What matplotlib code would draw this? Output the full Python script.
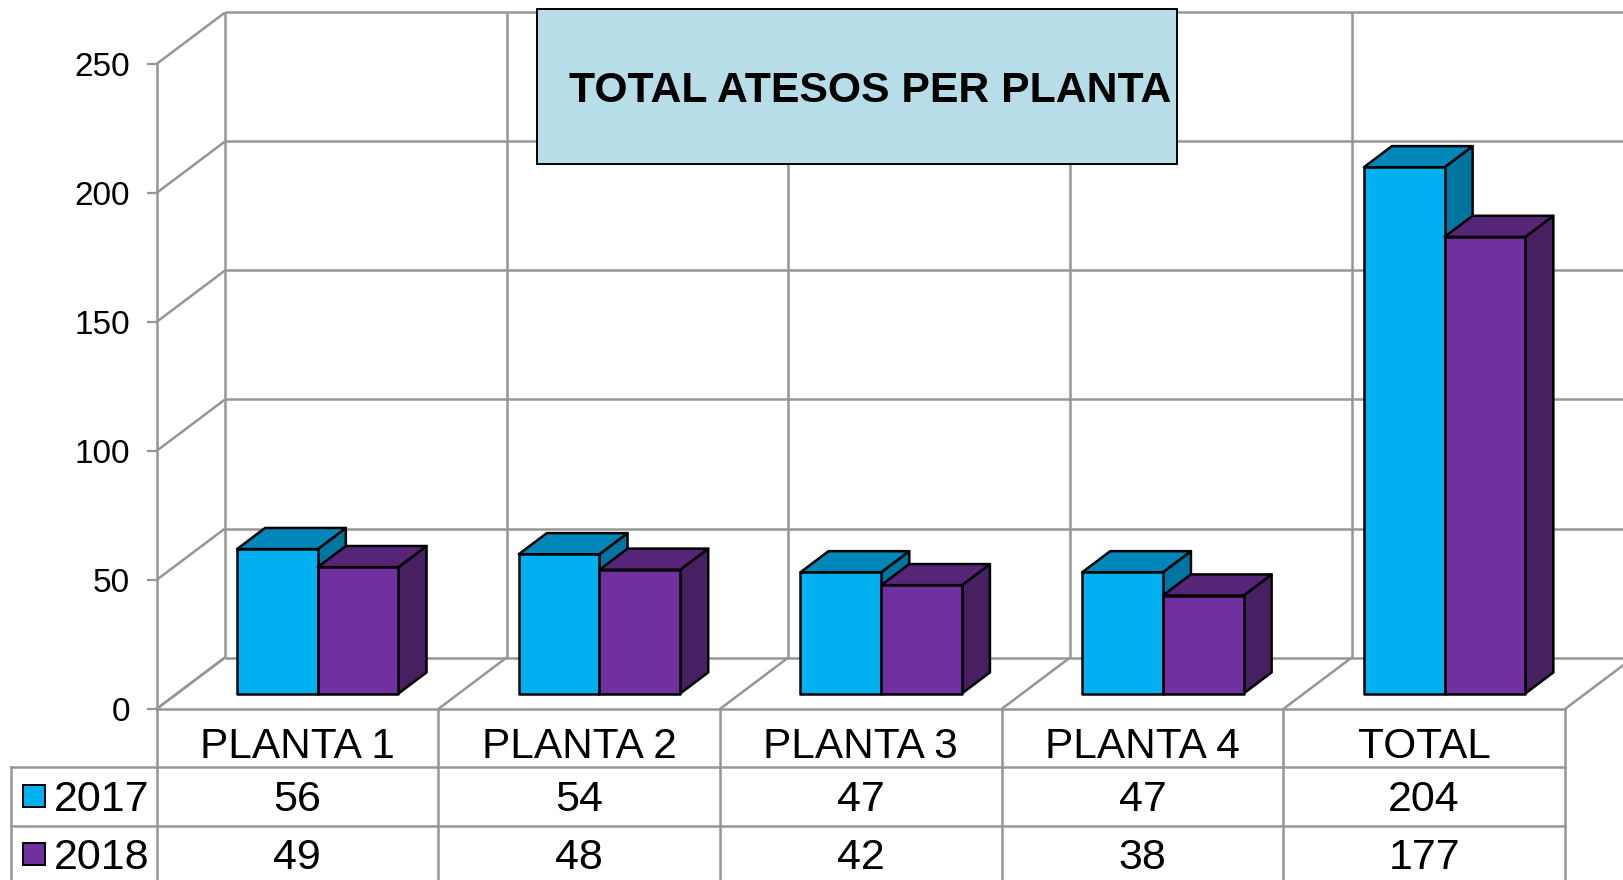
import matplotlib
matplotlib.use("Agg")
import matplotlib.pyplot as plt
from matplotlib.patches import Polygon, Rectangle
from matplotlib.transforms import blended_transform_factory

plt.rcParams['font.family'] = ['Liberation Sans', 'DejaVu Sans']

categories = ["PLANTA 1", "PLANTA 2", "PLANTA 3", "PLANTA 4", "TOTAL"]
series_names = ["2017", "2018"]
values_2017 = [56, 54, 47, 47, 204]
values_2018 = [49, 48, 42, 38, 177]
y_ticks = [0, 50, 100, 150, 200, 250]
title = "TOTAL ATESOS PER PLANTA"

W, H = 1623, 880
GRID = "#969696"
# front, top, side
BLUE = ("#00B0F0", "#0086B8", "#0074A0")
PURPLE = ("#7030A0", "#562578", "#472062")

fig = plt.figure(figsize=(W / 100, H / 100), dpi=100)
ax = fig.add_axes([156.5 / W, 1 - 709 / H, 1408.5 / W, 645 / H])
ax.set_xlim(0, 5)
ax.set_ylim(0, 250)
ax.patch.set_alpha(0)

# depth of the 3d box in data units
px_x = 5 / 1408.5
px_y = 250 / 645
depth_x = 68.5 * px_x
depth_y = 51.5 * px_y

for s in ["top", "right"]:
    ax.spines[s].set_visible(False)
for s in ["left", "bottom"]:
    ax.spines[s].set_color(GRID)
    ax.spines[s].set_linewidth(1.8)
ax.set_xticks([])
ax.set_yticks(y_ticks)
ax.tick_params(axis="y", length=7.2, width=1.6, color=GRID, labelsize=24, pad=12)


def grey(xs, ys, **kw):
    ax.plot(xs, ys, color=GRID, lw=1.8, clip_on=False, solid_capstyle="butt", zorder=1, **kw)


# back wall and side wall
for v in y_ticks:
    grey([depth_x, 5 + depth_x], [v + depth_y, v + depth_y])
    grey([0, depth_x], [v, v + depth_y])
for i in range(6):
    grey([i + depth_x, i + depth_x], [depth_y, 250 + depth_y])
    grey([i, i + depth_x], [0, depth_y])


def bar3d(x, w, v, colors):
    # bars stand between 30% and 71% of the floor depth
    ox, oy = 0.30 * depth_x, 0.30 * depth_y
    dx, dy = 0.41 * depth_x, 0.41 * depth_y
    x0, x1 = x + ox, x + w + ox
    y0, y1 = oy, v + oy
    faces = [
        ([(x1, y0), (x1 + dx, y0 + dy), (x1 + dx, y1 + dy), (x1, y1)], colors[2]),
        ([(x0, y1), (x1, y1), (x1 + dx, y1 + dy), (x0 + dx, y1 + dy)], colors[1]),
        ([(x0, y0), (x1, y0), (x1, y1), (x0, y1)], colors[0]),
    ]
    for pts, c in faces:
        ax.add_patch(Polygon(pts, closed=True, facecolor=c, edgecolor="black",
                             lw=1.8, joinstyle="round", clip_on=False, zorder=3))


bar_w = 80.7 * px_x
gap = 60 * px_x
for i in range(len(categories)):
    bar3d(i + gap, bar_w, values_2017[i], BLUE)
    bar3d(i + gap + bar_w, bar_w, values_2018[i], PURPLE)

# data table under the axis
tr = blended_transform_factory(ax.transData, fig.transFigure)
def fy(p):
    return 1 - p / H


for i in range(0, 6):
    ax.plot([i, i], [fy(709), fy(880)], transform=tr, color=GRID, lw=1.8, clip_on=False)
left_edge = -145.5 * px_x
for p in [767, 825.5]:
    ax.plot([left_edge, 5], [fy(p), fy(p)], transform=tr, color=GRID, lw=1.8, clip_on=False)
ax.plot([left_edge, left_edge], [fy(767), fy(880)], transform=tr, color=GRID, lw=1.8, clip_on=False)

for i, name in enumerate(categories):
    ax.text(i + 0.5, fy(758), name, transform=tr, ha="center", va="baseline", fontsize=30.5)
    ax.text(i + 0.5, fy(811), str(values_2017[i]), transform=tr, ha="center", va="baseline", fontsize=31)
    ax.text(i + 0.5, fy(869), str(values_2018[i]), transform=tr, ha="center", va="baseline", fontsize=31)

# legend keys in the first column
for name, c, top, base in zip(series_names, [BLUE[0], PURPLE[0]], [784.5, 843], [811, 869]):
    fig.add_artist(Rectangle((23 / W, fy(top + 22)), 22 / W, 22 / H, transform=fig.transFigure,
                             facecolor=c, edgecolor="black", lw=1.4))
    fig.text(54 / W, fy(base), name, ha="left", va="baseline", fontsize=31)

# title box
fig.add_artist(Rectangle((537 / W, fy(164)), 640 / W, 155 / H, transform=fig.transFigure,
                         facecolor="#B7DDE8", edgecolor="black", lw=1.4, zorder=5))
fig.text(569 / W, fy(102.5), title, ha="left", va="baseline", fontsize=30.8, fontweight="bold", zorder=6)

fig.savefig("out.png", dpi=100)
